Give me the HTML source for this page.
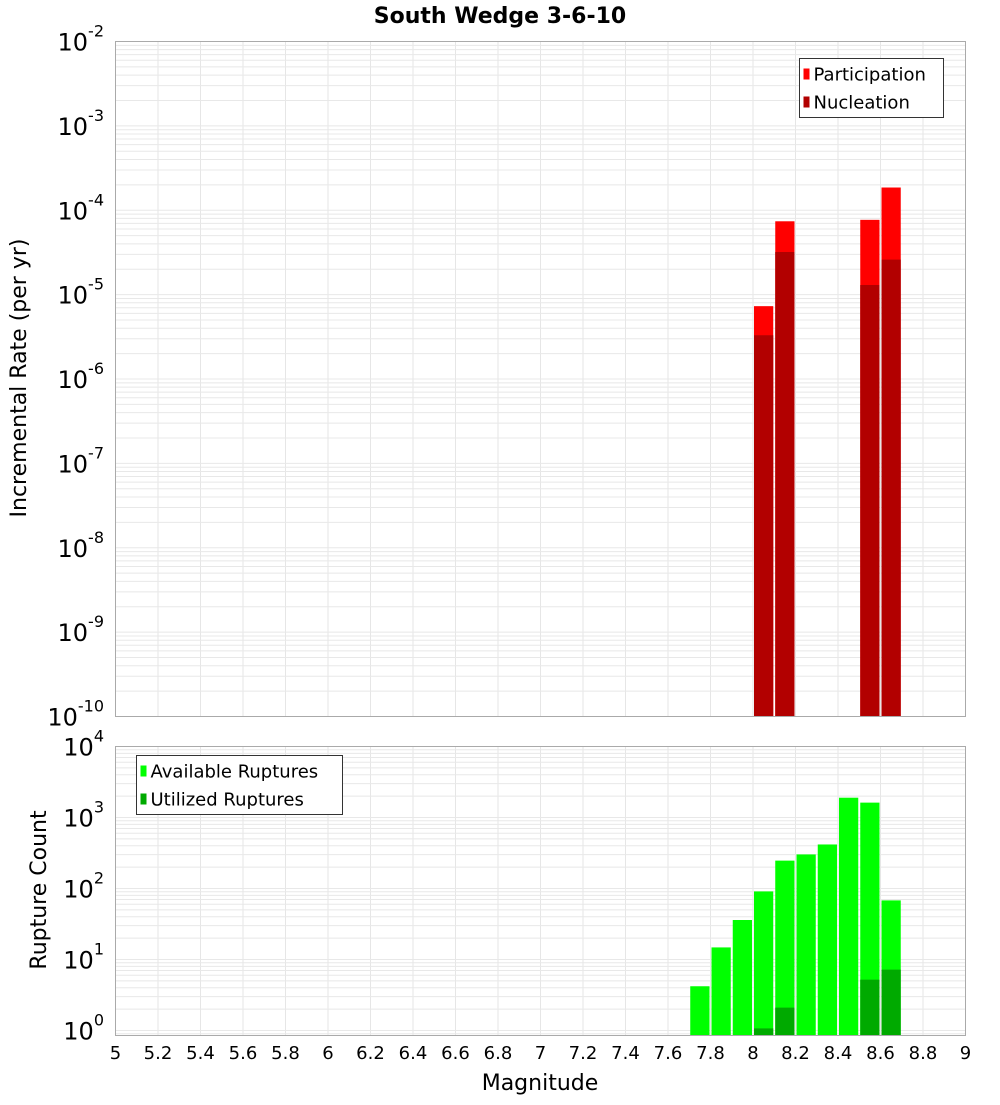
<!DOCTYPE html>
<html><head><meta charset="utf-8">
<style>
body{margin:0;background:#fff;}
svg text{font-family:"DejaVu Sans","Liberation Sans",sans-serif;}
</style></head>
<body>
<svg id="chart" width="1000" height="1100" xmlns="http://www.w3.org/2000/svg">
<text x="500" y="23" text-anchor="middle" font-size="22" font-weight="bold">South Wedge 3-6-10</text>
<g id="toppanel"></g>
<g id="botpanel"></g>
<text transform="translate(26,378) rotate(-90)" text-anchor="middle" font-size="22">Incremental Rate (per yr)</text>
<text transform="translate(46,890) rotate(-90)" text-anchor="middle" font-size="22">Rupture Count</text>
<text x="540" y="1090" text-anchor="middle" font-size="22">Magnitude</text>
</svg>
<script>
const mags = [7.75,7.85,7.95,8.05,8.15,8.25,8.35,8.45,8.55,8.65];
const participation = [0,0,0,7.3e-6,7.4e-5,0,0,0,7.7e-5,1.86e-4];
const nucleation = [0,0,0,3.3e-6,3.2e-5,0,0,0,1.3e-5,2.6e-5];
const available = [4.2,14.8,36,91,247,302,417,1900,1620,68];
const utilized = [0,0,0,1.07,2.1,0,0,0,5.2,7.2];
const xTicks = ["5","5.2","5.4","5.6","5.8","6","6.2","6.4","6.6","6.8","7","7.2","7.4","7.6","7.8","8","8.2","8.4","8.6","8.8","9"];
const topExps = [-2,-3,-4,-5,-6,-7,-8,-9,-10];
const botExps = [4,3,2,1,0];

const NS="http://www.w3.org/2000/svg";
const L=115.5,R=965.5;
const X=m=>L+(m-5)/4*(R-L);
const T={t:41.5,b:716.5,maxE:-2,minE:-10};
const B={t:746.5,b:1035.5,maxE:4,per:71};
const yT=v=>T.t+(T.maxE-Math.log10(v))*(T.b-T.t)/(T.maxE-T.minE);
const yB=v=>Math.min(B.b,B.t+(B.maxE-Math.log10(v))*B.per);
function mk(p,tag,a,txt){const e=document.createElementNS(NS,tag);for(const k in a)e.setAttribute(k,a[k]);if(txt!==undefined)e.textContent=txt;p.appendChild(e);return e;}
function grid(g,t0,b0,yfn,eHi,eLo){
  for(let m=5;m<=9.0001;m+=0.2){const x=X(m);const l=mk(g,'line',{x1:x,x2:x,y1:t0,y2:b0,stroke:'#e6e6e6'});}
  for(let e=eLo;e<eHi;e++)for(let k=1;k<10;k++){const y=yfn(k*Math.pow(10,e));if(y<t0||y>b0)continue;const l=mk(g,'line',{x1:L,x2:R,y1:y,y2:y,stroke:'#e8e8e8'});}
}
const gTop=document.getElementById('toppanel'),gBot=document.getElementById('botpanel');
grid(gTop,T.t,T.b,yT,-2,-10);
grid(gBot,B.t,B.b,yB,4,-1);
const bw=X(5.1)-X(5)-2;
function bars(g,vals,yfn,base,color,name){
  vals.forEach((v,i)=>{if(!v)return;const x=X(mags[i]-0.05)+1;const y=yfn(v);
    const r=mk(g,'rect',{x:x,y:y,width:bw,height:base-y,fill:color});
    });
}
bars(gTop,participation,yT,T.b,'#ff0000','participation-bar');
bars(gTop,nucleation,yT,T.b,'#b20000','nucleation-bar');
bars(gBot,available,yB,B.b,'#00ff00','available-bar');
bars(gBot,utilized,yB,B.b,'#00aa00','utilized-bar');
[[gTop,T.t,T.b],[gBot,B.t,B.b]].forEach(([g,a,b])=>{const f=mk(g,'rect',{x:L,y:a,width:R-L,height:b-a,fill:'none',stroke:'#aaa'});});
function ylab(g,y,e){const t=mk(g,'text',{x:104,y:y+9,'text-anchor':'end','font-size':24});
  t.appendChild(document.createTextNode('10'));mk(t,'tspan',{dy:-14,'font-size':16},String(e));}
topExps.forEach(e=>ylab(gTop,yT(Math.pow(10,e)),e));
botExps.forEach(e=>ylab(gBot,B.t+(B.maxE-e)*B.per,e));
xTicks.forEach(s=>{const t=mk(gBot,'text',{x:X(+s),y:1059,'text-anchor':'middle','font-size':18},s);});
function legend(g,x,y,w,items){const lg=mk(g,'g',{});
  mk(lg,'rect',{x:x,y:y,width:w,height:59,fill:'#fff',stroke:'#333'});
  items.forEach((it,i)=>{const e=mk(lg,'g',{});
    mk(e,'rect',{x:x+4,y:y+10+i*28,width:6,height:11,fill:it[1]});mk(e,'text',{x:x+14,y:y+22+i*28,'font-size':18},it[0]);});}
legend(gTop,799.5,58.5,144,[['Participation','#ff0000'],['Nucleation','#b20000']]);
legend(gBot,136.5,755.5,206,[['Available Ruptures','#00ff00'],['Utilized Ruptures','#00aa00']]);
</script>
</body></html>
